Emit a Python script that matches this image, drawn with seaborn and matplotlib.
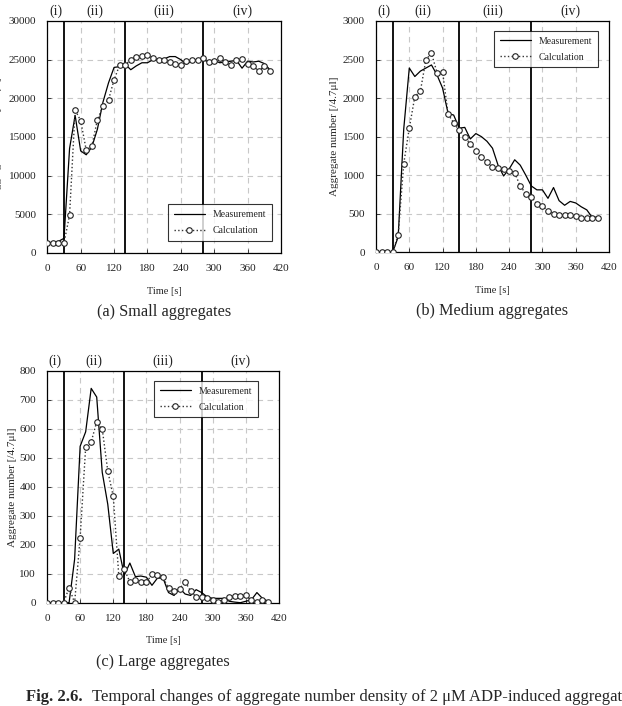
import numpy as np
import pandas as pd
import seaborn as sns
import matplotlib.pyplot as plt

# time axis [s] for the data
time_meas = list(range(0, 410, 10))
time_calc = list(range(0, 410, 10))

# (a) small aggregates
small_meas = [1300, 1400, 1500, 1900, 13500, 17800, 13200, 12700, 13700, 16000,
              19500, 22000, 24000, 24100, 24400, 23700, 24200, 24600, 24600, 25000,
              25000, 25100, 25400, 25400, 25000, 24400, 24900, 25000, 25000, 24700,
              24900, 24600, 24700, 24800, 24900, 23900, 24800, 24700, 24800, 24500, 23700]
small_calc = [1300, 1300, 1300, 1300, 4900, 18500, 17100, 13300, 13800, 17200,
              19000, 19800, 22400, 24300, 24300, 25000, 25400, 25500, 25600, 25200,
              25000, 24900, 24700, 24500, 24300, 24800, 24900, 24900, 25200, 24700,
              24800, 25200, 24700, 24300, 24900, 25100, 24500, 24200, 23500, 24200, 23500]

# (b) medium aggregates
medium_meas = [0, 0, 0, 0, 200, 1600, 2390, 2280, 2350, 2390,
               2430, 2300, 2130, 1800, 1780, 1610, 1620, 1470, 1540, 1500,
               1440, 1350, 1130, 990, 1080, 1200, 1130, 1000, 860, 810,
               810, 700, 840, 670, 610, 660, 640, 590, 550, 450, 460]
medium_calc = [0, 0, 0, 0, 230, 1150, 1610, 2020, 2090, 2500,
               2580, 2330, 2340, 1790, 1680, 1580, 1490, 1410, 1320, 1240,
               1170, 1110, 1090, 1080, 1060, 1030, 860, 760, 720, 630,
               600, 540, 500, 490, 490, 480, 470, 440, 450, 440, 450]

# (c) large aggregates
large_meas = [0, 0, 0, 0, 0, 150, 540, 590, 740, 710,
              450, 340, 170, 185, 95, 137, 90, 92, 88, 60,
              85, 85, 35, 25, 50, 30, 25, 45, 35, 20,
              15, 15, 15, 5, 2, 0, 5, 10, 35, 15, 5]
large_calc = [0, 0, 0, 0, 52, 0, 225, 537, 555, 625,
              600, 455, 367, 92, 115, 72, 78, 70, 70, 98,
              97, 88, 50, 40, 48, 73, 40, 20, 18, 15,
              8, 3, 10, 20, 24, 24, 25, 8, 2, 8, 2]

phase_labels = ["(i)", "(ii)", "(iii)", "(iv)"]
phase_label_x = [15, 85, 210, 350]

sns.set_theme(style="white")
plt.rcParams['font.family'] = ['Liberation Serif', 'DejaVu Serif']

W, H = 622, 706
fig = plt.figure(figsize=(W / 100, H / 100), dpi=100)


def px_axes(left, top, right, bottom):
    return fig.add_axes([left / W, 1 - bottom / H, (right - left) / W, (bottom - top) / H])


panels = [
    dict(rect=(47.3, 21, 281, 253), meas=small_meas, calc=small_calc, ymax=30000, ystep=5000,
         bounds=[30, 140, 280], leg_loc="lower right", leg_anchor=(0.961, 0.052),
         ylab_x=-0.215, caption="(a) Small aggregates"),
    dict(rect=(376, 21, 609, 252.3), meas=medium_meas, calc=medium_calc, ymax=3000, ystep=500,
         bounds=[30, 150, 280], leg_loc="upper right", leg_anchor=(0.953, 0.957),
         ylab_x=-0.18, caption="(b) Medium aggregates"),
    dict(rect=(47, 371, 279, 602.7), meas=large_meas, calc=large_calc, ymax=800, ystep=100,
         bounds=[30, 140, 280], leg_loc="upper right", leg_anchor=(0.909, 0.957),
         ylab_x=-0.148, caption="(c) Large aggregates"),
]

for p in panels:
    ax = px_axes(*p["rect"])
    df_m = pd.DataFrame({"t": time_meas, "n": p["meas"]})
    df_c = pd.DataFrame({"t": time_calc, "n": p["calc"]})
    sns.lineplot(data=df_m, x="t", y="n", ax=ax, color="black", lw=0.9,
                 label="Measurement", zorder=4)
    sns.lineplot(data=df_c, x="t", y="n", ax=ax, color="#333333", lw=1.0,
                 linestyle=":", marker="o", markersize=4, markerfacecolor="white",
                 markeredgecolor="#222222", markeredgewidth=0.8,
                 label="Calculation", zorder=5)
    for b in p["bounds"]:
        ax.axvline(b, color="black", lw=1.3, zorder=3)

    ax.set_xlim(0, 420)
    ax.set_ylim(0, p["ymax"])
    ax.set_xticks(np.arange(0, 421, 60))
    ax.set_yticks(np.arange(0, p["ymax"] + 1, p["ystep"]))
    ax.grid(True, color="#c8c8c8", lw=0.8, linestyle=(0, (5, 4)))
    ax.tick_params(direction="in", length=3, width=0.6, labelsize=8, pad=8,
                   colors="#222222", left=True, bottom=True)
    for s in ax.spines.values():
        s.set_color("black")
        s.set_linewidth(0.9)

    ax.set_xlabel("Time [s]", fontsize=7.5)
    ax.xaxis.set_label_coords(0.5, -0.165)
    ax.xaxis.label.set_va("center")
    ax.set_ylabel("Aggregate number [/4.7\u03bcl]", fontsize=8)
    ax.yaxis.set_label_coords(p["ylab_x"], 0.5)
    ax.yaxis.label.set_va("center")

    # phase labels above the plot
    for lab, lx in zip(phase_labels, phase_label_x):
        ax.text(lx, 1.04, lab, transform=ax.get_xaxis_transform(), ha="center",
                va="center", fontsize=10)

    leg = ax.legend(loc=p["leg_loc"], bbox_to_anchor=p["leg_anchor"], borderaxespad=0,
                    fontsize=7, frameon=True, fancybox=False, handlelength=3.2,
                    borderpad=0.6, labelspacing=0.7)
    leg.get_frame().set_edgecolor("black")
    leg.get_frame().set_linewidth(0.8)

    ax.text(0.5, -0.255, p["caption"], transform=ax.transAxes, ha="center", va="center",
            fontsize=11.7)

fig.text(26 / W, 1 - 697 / H, "Fig. 2.6.", fontweight="bold", fontsize=12, ha="left", va="center")
fig.text(92 / W, 1 - 697 / H,
         "Temporal changes of aggregate number density of 2 \u03bcM ADP-induced aggregation",
         fontsize=12, ha="left", va="center")

fig.savefig("out.png", dpi=100)
